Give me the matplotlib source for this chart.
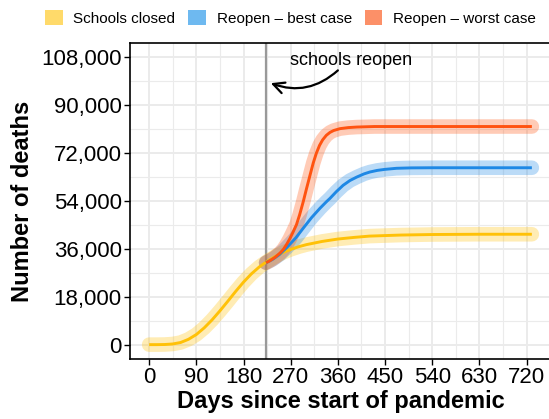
import numpy as np
import matplotlib
matplotlib.use('Agg')
import matplotlib.pyplot as plt
from matplotlib.patches import Patch
from matplotlib.ticker import MultipleLocator

plt.rcParams['font.family'] = ['Liberation Sans', 'DejaVu Sans']

# data
closed_days = [0, 15, 30, 45, 60, 75, 90, 105, 120, 135, 150, 165, 180, 195, 210, 225,
               240, 255, 270, 285, 300, 330, 360, 390, 420, 480, 540, 630, 730]
closed_deaths = [0, 0, 50, 250, 800, 2000, 3800, 6300, 9300, 12700, 16300, 20000, 23500,
                 26600, 29200, 31300, 33100, 34600, 35800, 36800, 37600, 38800, 39700,
                 40300, 40800, 41200, 41400, 41500, 41500]

best_days = [223, 235, 248, 262, 272, 280, 294, 310, 326, 338, 345, 357, 370, 383, 396,
             410, 421, 435, 450, 472, 500, 540, 730]
best_deaths = [30800, 32000, 33800, 36400, 38500, 40200, 43800, 47800, 51300, 53700,
               55000, 57500, 59900, 61700, 63000, 64200, 64900, 65500, 65900, 66300,
               66450, 66500, 66500]

worst_days = [223, 230, 240, 250, 256, 262, 268, 274, 281, 287, 294, 300, 307, 313, 319,
              325, 331, 338, 345, 352, 364, 380, 396, 430, 730]
worst_deaths = [30800, 31500, 32800, 34500, 35800, 37600, 39700, 42100, 45100, 48800,
                53800, 58500, 63800, 68300, 72000, 74900, 77000, 78700, 79800, 80500,
                81200, 81600, 81800, 82000, 82000]

reopen_day = 223

labels = ['Schools closed', 'Reopen \u2013 best case', 'Reopen \u2013 worst case']
line_colors = ['#FFC107', '#1E88E5', '#FF5310']
key_colors = ['#FFDA6A', '#6EB9F0', '#FC9068']

x_ticks = [0, 90, 180, 270, 360, 450, 540, 630, 720]
y_ticks = [0, 18000, 36000, 54000, 72000, 90000, 108000]
y_ticklabels = ['0', '18,000', '36,000', '54,000', '72,000', '90,000', '108,000']

fig = plt.figure(figsize=(5.49, 4.19), dpi=100)
ax = fig.add_axes([130/549, 60/419, 421/549, 316/419])

series = [(closed_days, closed_deaths), (best_days, best_deaths), (worst_days, worst_deaths)]
for (d, v), c in zip(series, line_colors):
    ax.plot(d, v, color=c, lw=10.5, alpha=0.3, solid_capstyle='round',
            solid_joinstyle='round', zorder=3)
for (d, v), c in zip(series, line_colors):
    ax.plot(d, v, color=c, lw=2.1, solid_capstyle='butt', solid_joinstyle='round', zorder=4)

ax.axvline(reopen_day, color='#999999', lw=1.6, zorder=2)

ax.text(385, 106900, 'schools reopen', fontsize=13, ha='center', va='center')
ax.annotate('', xy=(232, 98300), xytext=(360, 103100),
            arrowprops=dict(arrowstyle='->', color='black', lw=1.6,
                            connectionstyle='arc3,rad=-0.3', shrinkA=0, shrinkB=0,
                            mutation_scale=20))

ax.set_xlim(-36.5, 766.5)
ax.set_ylim(-5400, 113400)
ax.set_xticks(x_ticks)
ax.set_yticks(y_ticks)
ax.set_yticklabels(y_ticklabels)
ax.xaxis.set_minor_locator(MultipleLocator(45))
ax.yaxis.set_minor_locator(MultipleLocator(9000))
ax.grid(which='major', color='#EBEBEB', lw=1.4, zorder=0)
ax.grid(which='minor', color='#EBEBEB', lw=0.8, zorder=0)
ax.set_axisbelow(True)
ax.tick_params(which='major', labelsize=16, length=4, width=1, color='black', pad=2)
ax.tick_params(which='minor', length=0)
for s in ax.spines.values():
    s.set_linewidth(1.2)
    s.set_color('black')

ax.set_xlabel('Days since start of pandemic', fontsize=17, fontweight='bold', labelpad=1)
ax.set_ylabel('Number of deaths', fontsize=17, fontweight='bold', labelpad=5)

handles = [Patch(facecolor=c, edgecolor='none') for c in key_colors]
fig.legend(handles, labels, loc='center', bbox_to_anchor=(290.5/549, 1 - 18/419), ncol=3,
           frameon=False, fontsize=11, handlelength=1.15, handleheight=1.15,
           handletextpad=0.7, columnspacing=0.85)

plt.savefig('out.png', dpi=100)
